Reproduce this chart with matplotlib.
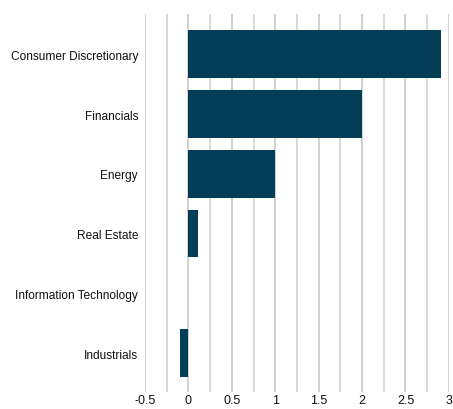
import numpy as np
import matplotlib.pyplot as plt
from matplotlib.ticker import MultipleLocator

sectors = ['Consumer Discretionary', 'Financials', 'Energy', 'Real Estate',
           'Information Technology', 'Industrials']
values = [2.91, 2.0, 1.0, 0.11, 0.0, -0.1]
xticks = [-0.5, 0, 0.5, 1, 1.5, 2, 2.5, 3]
xtick_labels = ['-0.5', '0', '0.5', '1', '1.5', '2', '2.5', '3']

plt.rcParams['font.family'] = ['Liberation Sans', 'DejaVu Sans']

fig = plt.figure(figsize=(4.53, 4.10), dpi=100)
ax = fig.add_axes([0.32, 0.0415, 0.671, 0.9215])

y = np.arange(len(sectors))
ax.barh(y, values, height=0.8, color='#023e55', zorder=3)

ax.set_ylim(5.65, -0.67)
ax.set_xlim(-0.5, 3.0)
ax.set_yticks(y)
ax.set_yticklabels(sectors, fontsize=8.6, color='#111111')
ax.set_xticks(xticks)
ax.set_xticklabels(xtick_labels, fontsize=9, color='#111111')
ax.xaxis.set_minor_locator(MultipleLocator(0.25))
ax.grid(axis='x', which='major', color='#c4c4c4', linewidth=1.1, zorder=0)
ax.grid(axis='x', which='minor', color='#d0d0d0', linewidth=1.1, zorder=0)
ax.tick_params(axis='both', which='both', length=0)
ax.tick_params(axis='x', pad=1.5)
ax.tick_params(axis='y', pad=5)
for s in ax.spines.values():
    s.set_visible(False)

fig.savefig('out.png', dpi=100)
